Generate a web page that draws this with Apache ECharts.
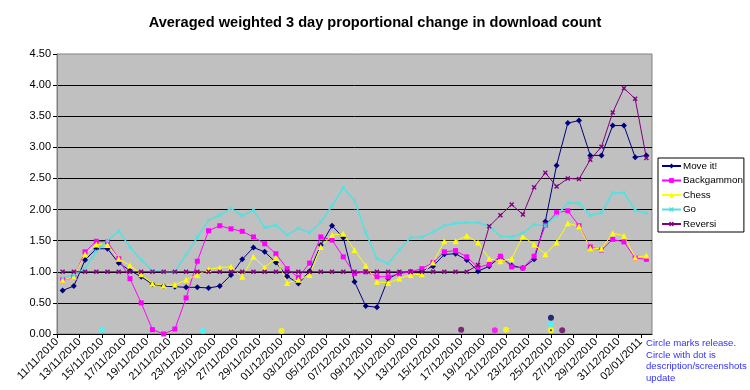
<!DOCTYPE html>
<html><head><meta charset="utf-8">
<script src="https://cdn.jsdelivr.net/npm/echarts@6/dist/echarts.min.js"></script>
<style>html,body{margin:0;padding:0;background:#fff}#c{width:750px;height:390px}</style>
</head><body><div id="c"></div>
<script>
const dates = [
 '11/11/2010','12/11/2010','13/11/2010','14/11/2010','15/11/2010','16/11/2010','17/11/2010','18/11/2010','19/11/2010','20/11/2010',
 '21/11/2010','22/11/2010','23/11/2010','24/11/2010','25/11/2010','26/11/2010','27/11/2010','28/11/2010','29/11/2010','30/11/2010',
 '01/12/2010','02/12/2010','03/12/2010','04/12/2010','05/12/2010','06/12/2010','07/12/2010','08/12/2010','09/12/2010','10/12/2010',
 '11/12/2010','12/12/2010','13/12/2010','14/12/2010','15/12/2010','16/12/2010','17/12/2010','18/12/2010','19/12/2010','20/12/2010',
 '21/12/2010','22/12/2010','23/12/2010','24/12/2010','25/12/2010','26/12/2010','27/12/2010','28/12/2010','29/12/2010','30/12/2010',
 '31/12/2010','01/01/2011','02/01/2011'
];
const seriesNames = ['Move it!','Backgammon','Chess','Go','Reversi'];
const moveIt = [0.70,0.77,1.19,1.37,1.37,1.14,1.02,0.92,0.80,0.77,
 0.76,0.75,0.75,0.74,0.77,0.95,1.20,1.39,1.32,1.15,
 0.93,0.81,1.01,1.43,1.74,1.55,0.84,0.45,0.43,0.89,
 0.98,1.00,1.01,1.09,1.28,1.29,1.19,1.01,1.09,1.24,
 1.10,1.06,1.20,1.81,2.71,3.39,3.43,2.87,2.87,3.35,
 3.35,2.84,2.87];
const backgammon = [0.87,0.91,1.32,1.49,1.48,1.21,0.89,0.50,0.07,0.00,
 0.08,0.58,1.17,1.66,1.74,1.69,1.65,1.56,1.45,1.29,
 1.05,0.91,1.14,1.56,1.51,1.24,0.97,1.00,0.92,0.92,
 0.97,1.00,1.05,1.15,1.32,1.34,1.24,1.07,1.12,1.25,
 1.08,1.06,1.25,1.75,1.95,1.98,1.74,1.40,1.35,1.52,
 1.48,1.22,1.20];
const chess = [0.87,0.92,1.28,1.44,1.43,1.21,1.10,0.96,0.81,0.78,
 0.79,0.87,0.95,1.04,1.07,1.08,0.92,1.24,1.07,1.22,
 0.82,0.87,0.95,1.40,1.59,1.61,1.35,1.10,0.84,0.82,
 0.89,0.95,0.96,1.15,1.49,1.49,1.58,1.47,1.21,1.17,
 1.21,1.57,1.44,1.28,1.47,1.78,1.73,1.38,1.37,1.62,
 1.58,1.23,1.26];
const go = [0.90,0.95,1.05,1.33,1.50,1.65,1.40,1.19,1.02,1.00,
 1.00,1.28,1.55,1.83,1.91,2.02,1.90,1.99,1.71,1.75,
 1.59,1.70,1.63,1.80,2.06,2.35,2.15,1.63,1.21,1.13,
 1.35,1.55,1.56,1.64,1.74,1.78,1.79,1.79,1.73,1.57,
 1.56,1.62,1.76,1.74,1.90,2.11,2.10,1.91,1.95,2.27,
 2.27,1.99,1.94];
const reversi = [1.00,1.00,1.00,1.00,1.00,1.00,1.00,1.00,1.00,1.00,
 1.00,1.00,1.00,1.00,1.00,1.00,1.00,1.00,1.00,1.00,
 1.00,1.00,1.00,1.00,1.00,1.00,1.00,1.00,1.00,1.00,
 1.00,1.00,1.00,1.00,1.00,1.00,1.00,1.11,1.73,1.91,
 2.08,1.92,2.36,2.59,2.37,2.50,2.49,2.80,3.01,3.56,
 3.95,3.78,2.83];
// release markers: day index (tick), level, app, with-dot flag
const releaseDay   = [4, 13, 20, 36, 39, 40, 44, 44, 44, 45];
const releaseLevel = [0.07, 0.05, 0.05, 0.07, 0.06, 0.07, 0.26, 0.16, 0.06, 0.06];
const releaseApp   = ['Go','Go','Chess','Reversi','Backgammon','Chess','Move it!','Go','Chess','Reversi'];
const releaseDot   = [false,false,false,false,false,false,false,false,true,false];
const noteLines = ['Circle marks release.','Circle with dot is','description/screenshots','update'];
const titleText = 'Averaged weighted 3 day proportional change in download count';

const FONT = '"Liberation Sans", Arial, sans-serif';
const colors = {'Move it!':'#000080','Backgammon':'#FF00FF','Chess':'#FFFF00','Go':'#55E0E0','Reversi':'#800080'};
const dotColors = {'Move it!':'#000066','Backgammon':'#FF00FF','Chess':'#FFFF00','Go':'#33FFFF','Reversi':'#660066'};
const XSYM = 'path://M0,1L1,0L5,4L4,5Z M4,0L5,1L1,5L0,4Z';
const symbols = {'Move it!':['diamond',6],'Backgammon':['rect',5],'Chess':['triangle',6],'Go':[XSYM,4],'Reversi':[XSYM,5]};
const values = {'Move it!':moveIt,'Backgammon':backgammon,'Chess':chess,'Go':go,'Reversi':reversi};
const labelIdx = dates.map((d,i)=>i).filter(i=>i%2===0);

const lineSeries = seriesNames.map(n => ({
  name:n, type:'line',
  data: values[n].map((v,i)=>[i+0.5, v]),
  symbol: symbols[n][0], symbolSize: symbols[n][1], showSymbol:true,
  lineStyle:{color:colors[n], width: n==='Go'?1.6:1},
  itemStyle:{color:colors[n]},
  emphasis:{disabled:true}
}));

const dotSeries = {
  type:'scatter', z:5, symbol:'circle', symbolSize:6,
  data: releaseDay.map((d,i)=>({value:[d, releaseLevel[i]], itemStyle:{color:dotColors[releaseApp[i]]}})),
  emphasis:{disabled:true}
};
const dotCenters = {
  type:'scatter', z:6, symbol:'circle', symbolSize:2,
  data: releaseDay.map((d,i)=>[d, releaseLevel[i], releaseDot[i]]).filter(r=>r[2]).map(r=>[r[0],r[1]]),
  itemStyle:{color:'#000'}, emphasis:{disabled:true}
};

const chart = echarts.init(document.getElementById('c'), null, {renderer:'canvas'});
chart.setOption({
  animation:false,
  backgroundColor:'#fff',
  textStyle:{fontFamily:FONT},
  title:{text:titleText, left:'center', top:15, padding:0,
    textStyle:{fontSize:14.6, fontWeight:'bold', color:'#000', fontFamily:FONT}},
  grid:{left:57, top:54, width:595, height:280, show:true, backgroundColor:'#C0C0C0',
    borderColor:'#808080', borderWidth:1, containLabel:false},
  legend:{data:seriesNames, orient:'vertical', left:658, top:158,
    itemWidth:19, itemHeight:6, itemGap:4.5, padding:[3,1,3,3],
    borderColor:'#000', borderWidth:1, backgroundColor:'#fff',
    textStyle:{fontSize:9.8, color:'#000', fontFamily:FONT, padding:[0,0,0,-3]}},
  xAxis:{type:'value', min:0, max:dates.length, interval:2,
    axisLine:{show:true, onZero:false, lineStyle:{color:'#000', width:1}},
    axisTick:{show:true, length:4, inside:false, lineStyle:{color:'#000'}, customValues:labelIdx},
    axisLabel:{customValues:labelIdx, rotate:45, fontSize:11, color:'#000', margin:6, fontFamily:FONT,
      formatter:v=>dates[v]||''},
    splitLine:{show:false}},
  yAxis:{type:'value', min:0, max:4.5, interval:0.5,
    axisLine:{show:true, lineStyle:{color:'#808080'}},
    axisTick:{show:true, length:4, lineStyle:{color:'#000'}},
    axisLabel:{fontSize:11, color:'#000', margin:6, fontFamily:FONT, formatter:v=>v.toFixed(2)},
    splitLine:{show:true, showMinLine:false, showMaxLine:false, lineStyle:{color:'#000', width:1}}},
  graphic:[{type:'text', left:646, top:338,
    style:{text:noteLines.join('\n'), fill:'#3333FF', font:'9.6px '+FONT, lineHeight:11.5}}],
  series: lineSeries.concat([dotSeries, dotCenters])
});
</script></body></html>
